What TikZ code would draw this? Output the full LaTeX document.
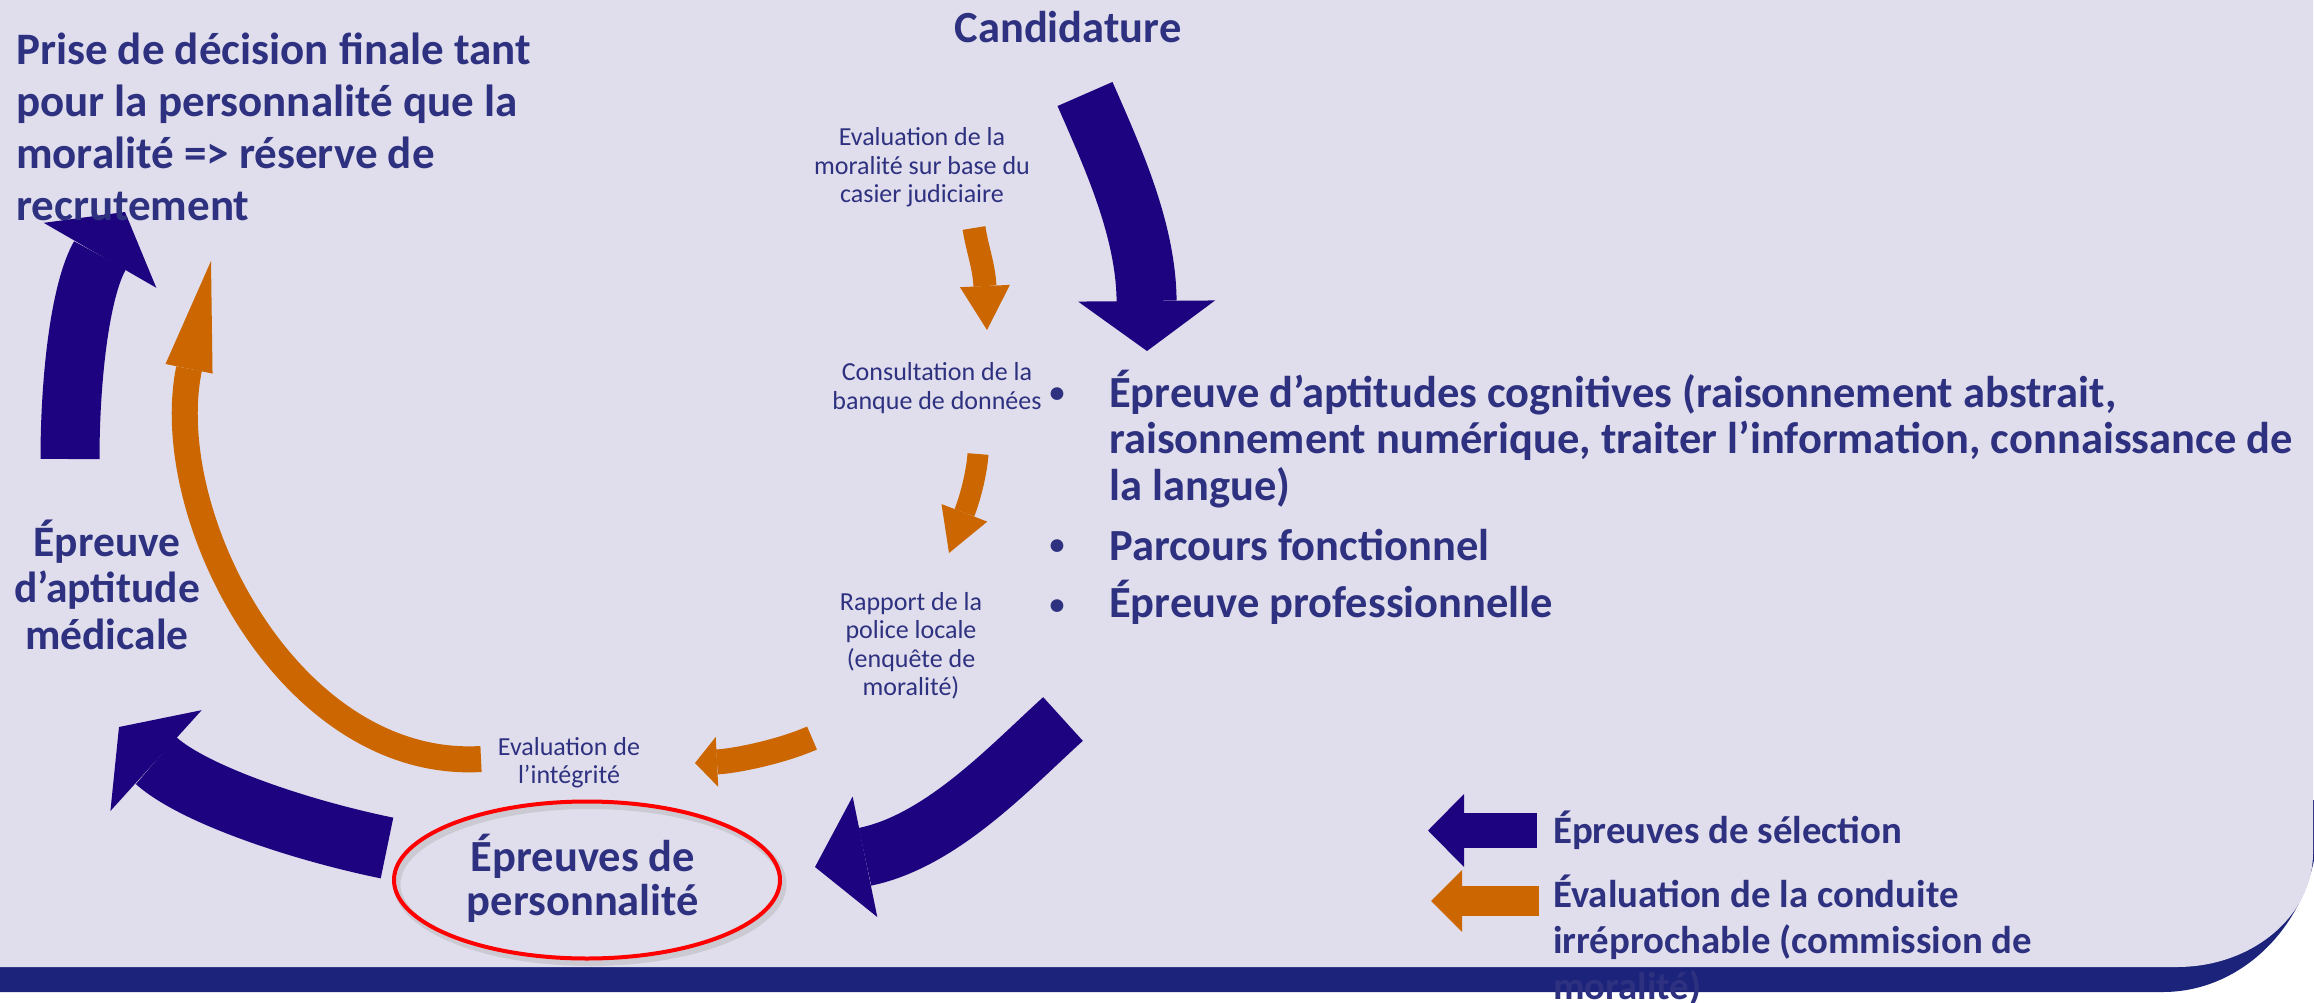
\documentclass[tikz,border=0pt]{standalone}
\usepackage{fontspec}
\setmainfont{Carlito}
\usetikzlibrary{arrows.meta,shapes.geometric,calc}
\definecolor{bgl}{RGB}{224,222,236}
\definecolor{band}{RGB}{28,35,122}
\definecolor{ind}{RGB}{30,3,128}
\definecolor{org}{RGB}{204,102,0}
\definecolor{txt}{RGB}{46,49,128}
\newcommand\blkc[1]{\vtop{\lineskiplimit=-\maxdimen\lineskip=0pt\halign{\hfil##\hfil\cr#1\crcr}}}
\newcommand\blkl[1]{\vtop{\lineskiplimit=-\maxdimen\lineskip=0pt\halign{##\hfil\cr#1\crcr}}}
\tikzset{
  bigtxt/.style={font=\bfseries\fontsize{44.5}{#1}\selectfont, text=txt, inner sep=0pt},
  bigtxt/.default=46.5,
  medtxt/.style={font=\bfseries\fontsize{43.5}{46.5}\selectfont, text=txt, inner sep=0pt},
  topltxt/.style={font=\bfseries\fontsize{45}{51.7}\selectfont, text=txt, inner sep=0pt},
  bultxt/.style={font=\bfseries\fontsize{30}{34}\selectfont, text=txt, inner sep=0pt},
  smalltxt/.style={font=\fontsize{26}{28.6}\selectfont, text=txt, inner sep=0pt},
  legtxt/.style={font=\bfseries\fontsize{38.8}{46}\selectfont, text=txt, inner sep=0pt},
  bluearr/.style={draw=ind, line width=#1pt},
  orgarr/.style={draw=org, line width=#1pt},
}
\begin{document}
\begin{tikzpicture}[x=1pt,y=-1pt]
\useasboundingbox (0,0) rectangle (2314,1003);
\fill[white] (0,0) rectangle (2314,1003);
% navy band with rounded corner
\fill[band] (0,800) -- (2318,800) -- (2318,822) .. controls (2318,916) and (2247,992) .. (2163,992) -- (0,992) -- cycle;
% lavender panel
\fill[bgl] (0,0) -- (2313,0) -- (2313,853) .. controls (2313,916) and (2252,967) .. (2177,967) -- (0,967) -- cycle;

% ---------- coordinates of arrow ends ----------
\coordinate (trS) at (1085,94);   \coordinate (trE) at (1147,351);
\coordinate (rbS) at (1063,719);  \coordinate (rbE) at (815,867);
\coordinate (lbS) at (387,848);   \coordinate (lbE) at (119,727);
\coordinate (ltS) at (70,459);    \coordinate (ltE) at (125,212);
\coordinate (obS) at (481,759);   \coordinate (obE) at (211,261);
\coordinate (o1S) at (974,228);   \coordinate (o1E) at (987,330);
\coordinate (o2S) at (978,454);   \coordinate (o2E) at (949,553);
\coordinate (o3S) at (812,738);   \coordinate (o3E) at (695,763);
\coordinate (lg1S) at (1537,830.5); \coordinate (lg1E) at (1428,830.5);
\coordinate (lg2S) at (1539,901);   \coordinate (lg2E) at (1431,901);

% ---------- blue arrows ----------
\draw[bluearr=60, -{Triangle[width=137pt,length=50pt,line width=0pt]}]
  (trS) .. controls (1113,158) and (1146,230) .. (trE);
\draw[bluearr=59, -{Triangle[width=123pt,length=51pt,line width=0pt]}]
  (rbS) .. controls (1011,766) and (942,841) .. (rbE);
\draw[bluearr=62, -{Triangle[width=136pt,length=50pt,line width=0pt]}]
  (lbS) .. controls (299,830) and (193,794) .. (lbE);
\draw[bluearr=59, -{Triangle[width=130pt,length=50pt,line width=0pt]}]
  (ltS) .. controls (70,379) and (80,290) .. (ltE);

% ---------- orange arrows ----------
\draw[orgarr=26, -{Triangle[width=48pt,length=110pt,line width=0pt]}]
  (obS) .. controls (290,770) and (159,516) .. (obE);
\draw[orgarr=23, -{Triangle[width=50pt,length=44pt,line width=0pt]}]
  (o1S) .. controls (977,248) and (984,266) .. (o1E);
\draw[orgarr=21, -{Triangle[width=49pt,length=43pt,line width=0pt]}]
  (o2S) .. controls (977,469) and (972,493) .. (o2E);
\draw[orgarr=25, -{Triangle[width=50pt,length=22pt,line width=0pt]}]
  (o3S) .. controls (780,752) and (735,761) .. (o3E);

% ---------- legend arrows ----------
\draw[bluearr=35, -{Triangle[width=73pt,length=36pt,line width=0pt]}] (lg1S) -- (lg1E);
\draw[orgarr=30, -{Triangle[width=62pt,length=31pt,line width=0pt]}] (lg2S) -- (lg2E);

% ---------- ellipse ----------
\coordinate (ellc) at (587,880);
\draw[black!35, opacity=0.35, line width=7pt] ($(ellc)+(3,4)$) ellipse [x radius=193, y radius=78.5];
\draw[red, line width=4pt] (ellc) ellipse [x radius=193, y radius=78.5];

% ---------- texts ----------
\node[topltxt, anchor=base west] (decision) at (16,65)
  {\blkl{Prise de décision finale tant\cr pour la personnalité que la\cr moralité => réserve de\cr recrutement}};
\node[bigtxt, anchor=base] (cand) at (1068,43) {Candidature};
\node[medtxt, anchor=base] (medic) at (107,556) {\blkc{Épreuve\cr d’aptitude\cr médicale}};
\node[bigtxt=44, anchor=base] (perso) at (583,871.5) {\blkc{Épreuves de\cr personnalité}};

\node[bigtxt=46.5, anchor=base west] (it1) at (1109,407)
  {\blkl{Épreuve d’aptitudes cognitives (raisonnement abstrait,\cr raisonnement numérique, traiter l’information, connaissance de\cr la langue)}};
\node[bigtxt, anchor=base west] (it2) at (1109,560) {Parcours fonctionnel};
\node[bigtxt, anchor=base west] (it3) at (1109,617) {Épreuve professionnelle};
\node[bultxt, anchor=base] (bul1) at (1057,402) {•};
\node[bultxt, anchor=base] (bul2) at (1057,554) {•};
\node[bultxt, anchor=base] (bul3) at (1057,614) {•};

\node[smalltxt, anchor=base] (casier) at (922,145.5) {\blkc{Evaluation de la\cr moralité sur base du\cr casier judiciaire}};
\node[smalltxt, anchor=base] (banque) at (937,380.6) {\blkc{Consultation de la\cr banque de données}};
\node[smalltxt, anchor=base] (police) at (911,610) {\blkc{Rapport de la\cr police locale\cr (enquête de\cr moralité)}};
\node[smalltxt, anchor=base] (integ) at (569,755) {\blkc{Evaluation de\cr l’intégrité}};

\node[legtxt, anchor=base west] (leg1) at (1553,843) {Épreuves de sélection};
\node[legtxt, anchor=base west] (leg2) at (1553,907) {\blkl{Évaluation de la conduite\cr irréprochable (commission de\cr moralité)}};
\end{tikzpicture}
\end{document}
